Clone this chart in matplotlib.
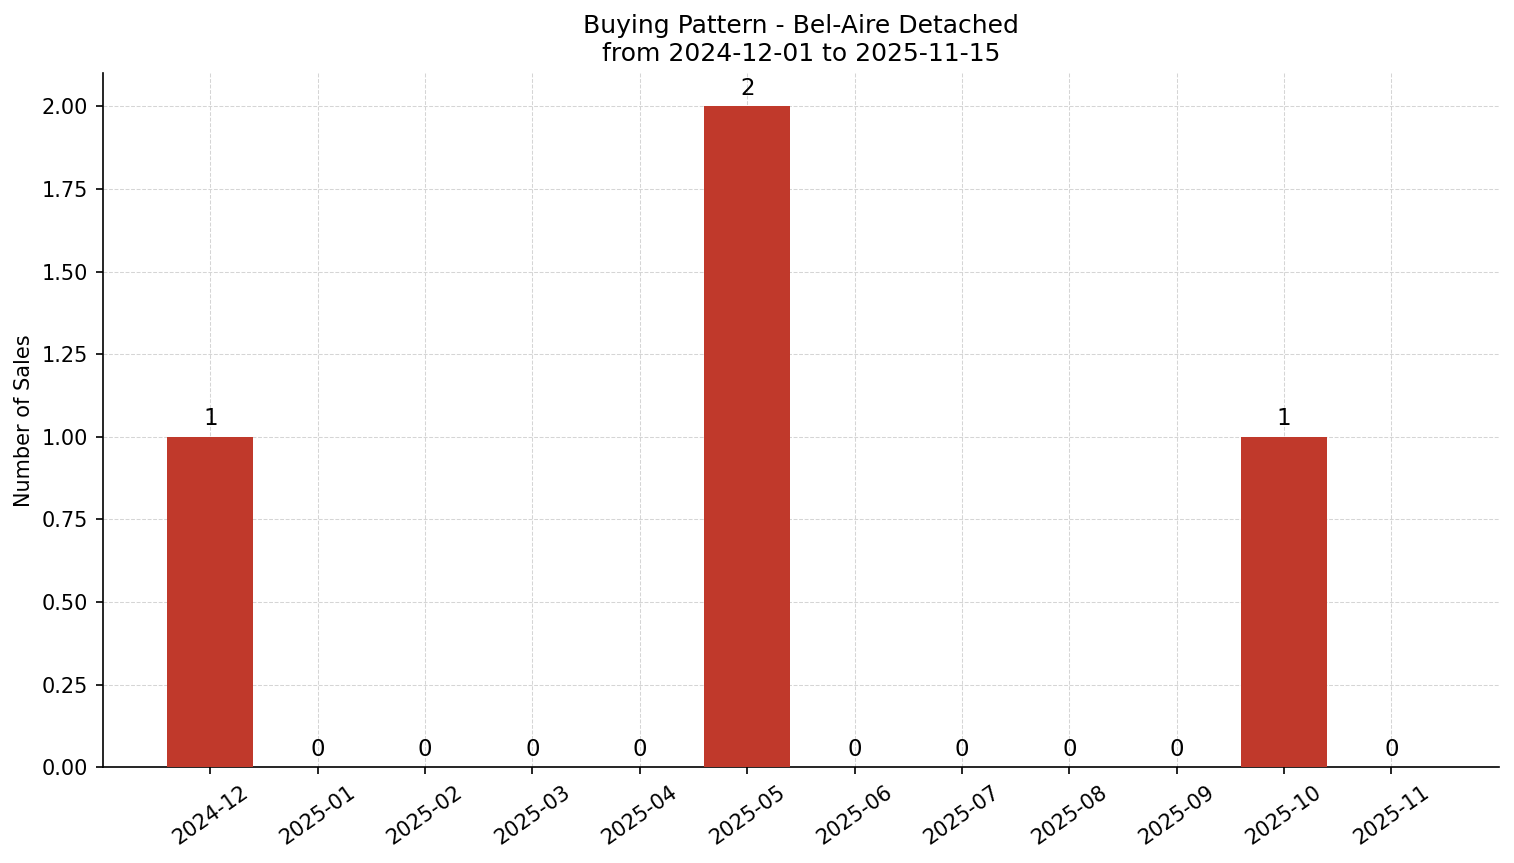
import matplotlib
matplotlib.use("Agg")
import matplotlib.pyplot as plt

months = ['2024-12', '2025-01', '2025-02', '2025-03', '2025-04', '2025-05',
          '2025-06', '2025-07', '2025-08', '2025-09', '2025-10', '2025-11']
sales = [1, 0, 0, 0, 0, 2, 0, 0, 0, 0, 1, 0]

fig, ax = plt.subplots(figsize=(1514 / 150, 863 / 150), dpi=150)
x = list(range(len(months)))
bars = ax.bar(x, sales, width=0.8, color='#c0392b', zorder=3)

for xi, v in zip(x, sales):
    ax.text(xi, v + 0.02, str(v), ha='center', va='bottom', fontsize=11, zorder=4)

ax.set_xticks(x)
ax.set_xticklabels(months, rotation=35, fontsize=10)
ax.tick_params(axis='y', labelsize=10)
ax.set_xlim(-1, 12)
ax.set_ylim(0, 2.1)
ax.set_yticks([0, 0.25, 0.5, 0.75, 1.0, 1.25, 1.5, 1.75, 2.0])
ax.yaxis.set_major_formatter(matplotlib.ticker.FormatStrFormatter('%.2f'))
ax.set_ylabel('Number of Sales', fontsize=10)
ax.set_title('Buying Pattern - Bel-Aire Detached\nfrom 2024-12-01 to 2025-11-15', fontsize=12)
ax.grid(True, linestyle='--', color='#d5d5d5', linewidth=0.5, zorder=0)
ax.spines['top'].set_visible(False)
ax.spines['right'].set_visible(False)

fig.subplots_adjust(left=0.068, right=0.990, top=0.915, bottom=0.111)
fig.savefig('out.png', dpi=150)
